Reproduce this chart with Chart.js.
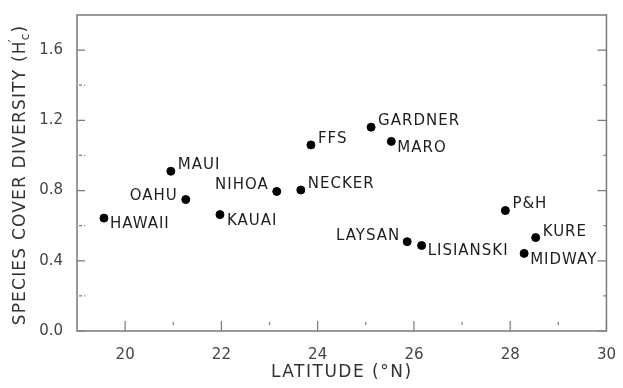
<!DOCTYPE html>
<html><head><meta charset="utf-8">
<script src="https://cdn.jsdelivr.net/npm/chart.js@4"></script>
<style>html,body{margin:0;padding:0;background:#fff}#wrap{width:623px;height:388px}</style>
</head>
<body><div id="wrap"><canvas id="c" width="623" height="388"></canvas></div>
<script>
// ---- data ----
const islands   = ['HAWAII','MAUI','OAHU','KAUAI','NIHOA','NECKER','FFS','GARDNER','MARO','P&H','KURE','MIDWAY','LAYSAN','LISIANSKI'];
const latitude  = [19.56, 20.95, 21.26, 21.97, 23.15, 23.65, 23.86, 25.11, 25.53, 27.90, 28.53, 28.29, 25.86, 26.16];
const diversity = [0.643, 0.910, 0.749, 0.663, 0.795, 0.803, 1.060, 1.161, 1.080, 0.686, 0.532, 0.442, 0.509, 0.487];
const xTicks = [20, 22, 24, 26, 28, 30];
const xMinorTicks = [21, 23, 25, 27, 29];
const yTicks = [0, 0.4, 0.8, 1.2, 1.6];
const yMinorTicks = [0.2, 0.6, 1.0, 1.4];
const xTitle = 'LATITUDE (°N)';
const yTitleMain = 'SPECIES COVER DIVERSITY (H';
const yTitleSup = '′';
const yTitleSub = 'c';
const yTitleEnd = ')';

// ---- style: label placement relative to each point [dx, dy, align] ----
const labelPlacement = [
  [6, 6, 'left'], [7, -6, 'left'], [-8, -3, 'right'], [7, 7, 'left'],
  [-8, -6, 'right'], [7, -6, 'left'], [7, -6, 'left'], [7, -6, 'left'],
  [6, 7, 'left'], [7, -6, 'left'], [7, -5, 'left'], [6, 7, 'left'],
  [-7, -6, 'right'], [6, 6, 'left']
];

const FONT = '"DejaVu Sans", sans-serif';
const AXIS_COLOR = '#7a7a7a';

const decorPlugin = {
  id: 'decor',
  afterDatasetsDraw(chart) {
    const ctx = chart.ctx;
    const a = chart.chartArea;
    const xs = chart.scales.x, ys = chart.scales.y;
    ctx.save();
    // frame
    ctx.strokeStyle = AXIS_COLOR;
    ctx.lineWidth = 1.5;
    ctx.strokeRect(a.left, a.top, a.right - a.left, a.bottom - a.top);
    // ticks
    ctx.lineWidth = 1.2;
    ctx.beginPath();
    yTicks.forEach(v => {
      const y = ys.getPixelForValue(v);
      ctx.moveTo(a.left, y); ctx.lineTo(a.left + 8, y);
      ctx.moveTo(a.right, y); ctx.lineTo(a.right - 9, y);
    });
    yMinorTicks.forEach(v => {
      const y = ys.getPixelForValue(v);
      ctx.moveTo(a.left + 2, y); ctx.lineTo(a.left + 5, y);
      ctx.moveTo(a.left + 7, y); ctx.lineTo(a.left + 8, y);
      ctx.moveTo(a.right, y); ctx.lineTo(a.right - 3, y);
    });
    xTicks.forEach(v => {
      const x = xs.getPixelForValue(v);
      ctx.moveTo(x, a.bottom); ctx.lineTo(x, a.bottom - 10);
    });
    xMinorTicks.forEach(v => {
      const x = xs.getPixelForValue(v);
      ctx.moveTo(x, a.bottom - 6); ctx.lineTo(x, a.bottom - 9);
    });
    ctx.stroke();

    // point labels
    const meta = chart.getDatasetMeta(0);
    ctx.fillStyle = '#1e1e1e';
    ctx.font = '15px ' + FONT;
    ctx.letterSpacing = '1px';
    ctx.textBaseline = 'middle';
    meta.data.forEach((pt, i) => {
      const p = labelPlacement[i];
      ctx.textAlign = p[2];
      ctx.fillText(islands[i], pt.x + p[0], pt.y + p[1]);
    });

    // axis titles
    ctx.fillStyle = '#333';
    ctx.font = '17px ' + FONT;
    ctx.letterSpacing = '1.5px';
    ctx.textAlign = 'center';
    ctx.textBaseline = 'middle';
    ctx.fillText(xTitle, (a.left + a.right) / 2, 373);

    ctx.translate(19, (a.top + a.bottom) / 2 + 2);
    ctx.rotate(-Math.PI / 2);
    ctx.textAlign = 'left';
    ctx.textBaseline = 'alphabetic';
    ctx.letterSpacing = '1.2px';
    ctx.font = '17px ' + FONT;
    const w1 = ctx.measureText(yTitleMain).width;
    ctx.font = '12px ' + FONT;
    const w2 = ctx.measureText(yTitleSub).width;
    ctx.font = '17px ' + FONT;
    const w3 = ctx.measureText(yTitleEnd).width;
    const total = w1 + w2 + w3;
    let x0 = -total / 2;
    const base = 6;
    ctx.font = '17px ' + FONT;
    ctx.fillText(yTitleMain, x0, base);
    ctx.font = '12px ' + FONT;
    ctx.fillText(yTitleSup, x0 + w1 - 2, base - 8);
    ctx.fillText(yTitleSub, x0 + w1, base + 4);
    ctx.font = '17px ' + FONT;
    ctx.fillText(yTitleEnd, x0 + w1 + w2, base);
    ctx.restore();
  }
};

new Chart(document.getElementById('c'), {
  type: 'scatter',
  data: {
    datasets: [{
      data: latitude.map((x, i) => ({ x: x, y: diversity[i] })),
      backgroundColor: '#000',
      borderColor: '#000',
      pointRadius: 4,
      pointHoverRadius: 4
    }]
  },
  options: {
    responsive: false,
    animation: false,
    devicePixelRatio: 1,
    layout: { padding: { left: 0, right: 14, top: 9, bottom: 0 } },
    plugins: { legend: { display: false }, tooltip: { enabled: false } },
    scales: {
      x: {
        type: 'linear', min: 19, max: 30,
        grid: { display: false }, border: { display: false },
        afterBuildTicks: s => { s.ticks = xTicks.map(v => ({ value: v })); },
        afterFit: s => { s.height = 57; },
        ticks: { color: '#444', font: { family: FONT, size: 15 }, padding: 7, maxRotation: 0,
                 callback: v => String(v) }
      },
      y: {
        type: 'linear', min: 0, max: 1.8,
        grid: { display: false }, border: { display: false },
        afterBuildTicks: s => { s.ticks = yTicks.map(v => ({ value: v })); },
        afterFit: s => { s.width = 77; },
        ticks: { color: '#444', font: { family: FONT, size: 15 }, padding: 6,
                 callback: v => v.toFixed(1) }
      }
    }
  },
  plugins: [decorPlugin]
});
</script>
</body></html>
